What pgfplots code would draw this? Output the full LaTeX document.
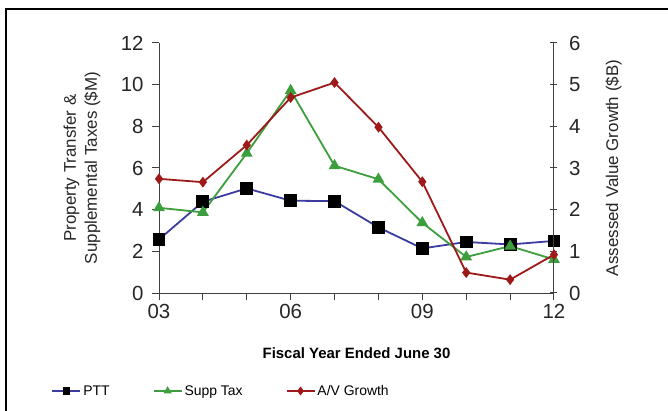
\documentclass[border=0pt]{standalone}
\usepackage{pgfplots}
\pgfplotsset{compat=1.18}
\usepackage{fontspec}
\setmainfont{Liberation Sans}
\definecolor{pttblue}{HTML}{3C3CA0}
\definecolor{suppgreen}{HTML}{3C9E3C}
\definecolor{avred}{HTML}{9E1A1A}
\definecolor{axgray}{HTML}{404040}
\begin{document}
\begin{tikzpicture}
\useasboundingbox (0,0) rectangle (668bp,411bp);
\draw[line width=1.5bp,black] (6bp,0) -- (6bp,402bp) -- (668bp,402bp);
\pgfplotsset{
  every axis/.append style={
    scale only axis, width=395bp, height=250bp,
    at={(159bp,118bp)}, anchor=south west,
    xmin=3, xmax=12,
    axis line style={axgray, line width=1bp},
    tick style={axgray, line width=1bp, major tick length=7bp},
    tick label style={font=\fontsize{20.5}{22}\selectfont, text=black!85},
    /pgf/number format/assume math mode=true,
  },
}
\begin{axis}[
  axis x line*=bottom, axis y line*=left,
  ymin=0, ymax=12, ytick={0,2,...,12},
  xtick={3,4,...,12},
  xticklabels={03,,,06,,,09,,,12},
  tick align=outside,
  xticklabel style={yshift=-1bp},
  yticklabel style={xshift=-5bp},
  xlabel={\textbf{Fiscal Year Ended June 30}},
  xlabel style={font=\fontsize{15}{17}\selectfont, at={(axis description cs:0.5,-0.205)}, anchor=north},
  ylabel={Property Transfer \&\\Supplemental Taxes (\$M)},
  ylabel style={font=\fontsize{17}{21}\selectfont, align=center, at={(axis description cs:-0.195,0.5)}, anchor=center, text=black!85},
  legend style={at={(axis description cs:-0.28,-0.392)}, anchor=west, draw=none, fill=none,
    font=\fontsize{14}{16}\selectfont, legend columns=3,
    /tikz/every even column/.append style={column sep=41bp}},
  legend cell align=left,
  legend image code/.code={\draw[mark repeat=2,mark phase=2,mark size=3bp] plot coordinates {(0bp,0bp) (14bp,0bp) (28bp,0bp)};},
]
\addplot[pttblue, line width=1.8bp, mark=square*, mark size=5.5bp, mark options={fill=black, draw=black}]
  coordinates {(3,2.57) (4,4.38) (5,5.02) (6,4.43) (7,4.41) (8,3.15) (9,2.14) (10,2.45) (11,2.33) (12,2.50)};
\addlegendentry{PTT}
\addplot[suppgreen, line width=1.8bp, mark=triangle*, mark size=5bp, mark options={fill=suppgreen}]
  coordinates {(3,4.09) (4,3.87) (5,6.71) (6,9.72) (7,6.11) (8,5.46) (9,3.37) (10,1.73) (11,2.25) (12,1.61)};
\addlegendentry{Supp Tax}
\addlegendimage{avred, line width=1.8bp, mark=diamond*, mark options={fill=avred}}
\addlegendentry{A/V Growth}
\end{axis}
\begin{axis}[
  hide x axis,
  axis y line*=right,
  ymin=0, ymax=6, ytick={0,1,...,6},
  tick align=center,
  yticklabel style={xshift=8bp},
  ylabel={Assessed Value Growth (\$B)},
  ylabel style={font=\fontsize{17}{21}\selectfont, at={(axis description cs:1.151,0.5)}, anchor=center, rotate=0, text=black!85},
]
\addplot[avred, line width=1.8bp, mark=diamond*, mark size=4bp, mark options={fill=avred}]
  coordinates {(3,2.74) (4,2.66) (5,3.55) (6,4.69) (7,5.05) (8,3.98) (9,2.67) (10,0.49) (11,0.32) (12,0.92)};
\end{axis}
\end{tikzpicture}
\end{document}
